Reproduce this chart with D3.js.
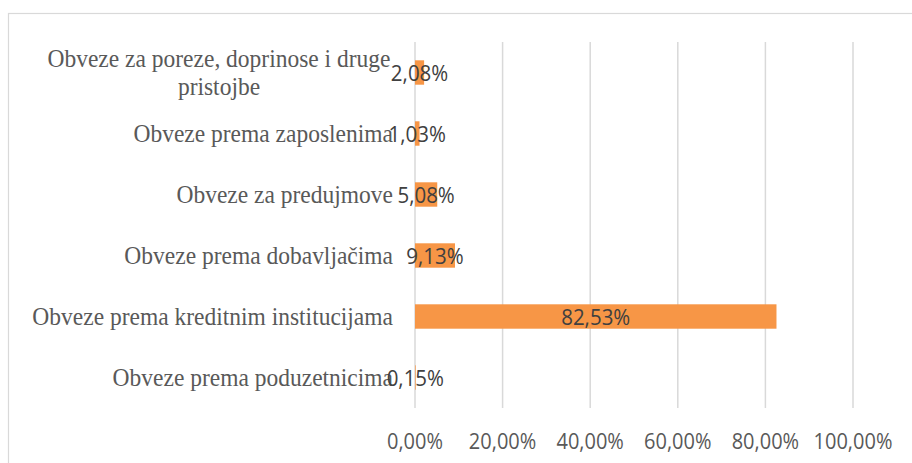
<!DOCTYPE html>
<html>
<head>
<meta charset="utf-8">
<script src="https://cdn.jsdelivr.net/npm/d3@7"></script>
<style>
  body { margin: 0; background: #fff; }
</style>
</head>
<body>
<div id="chart"></div>
<script>
const categories = [
	"Obveze za poreze, doprinose i druge pristojbe",
	"Obveze prema zaposlenima",
	"Obveze za predujmove",
	"Obveze prema dobavljačima",
	"Obveze prema kreditnim institucijama",
	"Obveze prema poduzetnicima",
];
const values = [2.08, 1.03, 5.08, 9.13, 82.53, 0.15];
const ticks = [0, 20, 40, 60, 80, 100];
// wrapped lines for long labels
const labelLines = [
	["Obveze za poreze, doprinose i druge", "pristojbe"],
	["Obveze prema zaposlenima"],
	["Obveze za predujmove"],
	["Obveze prema dobavljačima"],
	["Obveze prema kreditnim institucijama"],
	["Obveze prema poduzetnicima"],
];

const width = 912;
const height = 463;
const fmt = (v) => v.toFixed(2).replace(".", ",") + "%";
const sans = "'Open Sans', 'Noto Sans', sans-serif";
// the source picture's text is a bit taller than wide
const stretch = (cy) => `translate(0 ${cy}) scale(1 1.1) translate(0 ${-cy})`;

const svg = d3
	.select("#chart")
	.append("svg")
	.attr("width", width)
	.attr("height", height);

// chart border (runs off right and bottom)
svg
	.append("rect")
	.attr("x", 8.5)
	.attr("y", 13.5)
	.attr("width", 920)
	.attr("height", 480)
	.attr("fill", "#fff")
	.attr("stroke", "#d9d9d9")
	.attr("stroke-width", 1.2);

const x = d3.scaleLinear().domain([0, 100]).range([415, 853]);
const y = d3.scaleBand().domain(categories).range([42, 408]).paddingInner(0.6).paddingOuter(0.3);

// gridlines
svg
	.append("g")
	.selectAll("line")
	.data(ticks)
	.enter()
	.append("line")
	.attr("x1", (d) => x(d))
	.attr("x2", (d) => x(d))
	.attr("y1", 42)
	.attr("y2", 408)
	.attr("stroke", "#d9d9d9")
	.attr("stroke-width", 1.5);

// bars
svg
	.append("g")
	.selectAll("rect")
	.data(values)
	.enter()
	.append("rect")
	.attr("x", x(0))
	.attr("y", (d, i) => y(categories[i]))
	.attr("width", (d) => x(d) - x(0))
	.attr("height", y.bandwidth())
	.attr("fill", "#f79646");

// category labels
const labels = svg
	.append("g")
	.selectAll("text")
	.data(categories)
	.enter()
	.append("text")
	.attr("font-family", "'Liberation Serif', 'Times New Roman', serif")
	.attr("font-size", "23.5px")
	.attr("fill", "#595959");

labels.each(function (d, i) {
	const lines = labelLines[i];
	const cy = y(d) + y.bandwidth() / 2;
	const t = d3.select(this).attr("transform", stretch(cy));
	if (lines.length === 1) {
		t.attr("text-anchor", "end")
			.attr("x", 393)
			.attr("y", cy)
			.attr("dy", "0.32em")
			.text(lines[0]);
	} else {
		t.attr("text-anchor", "middle");
		lines.forEach((ln, k) => {
			t.append("tspan")
				.attr("x", 219)
				.attr("y", cy + (k - (lines.length - 1) / 2) * 25.5)
				.attr("dy", "0.32em")
				.text(ln);
		});
	}
});

// data labels centered on bars
svg
	.append("g")
	.selectAll("text")
	.data(values)
	.enter()
	.append("text")
	.attr("x", (d) => (x(0) + x(d)) / 2)
	.attr("y", (d, i) => y(categories[i]) + y.bandwidth() / 2)
	.attr("transform", (d, i) => stretch(y(categories[i]) + y.bandwidth() / 2))
	.attr("dy", "0.36em")
	.attr("text-anchor", "middle")
	.attr("font-family", sans)
	.attr("font-size", "20.5px")
	.attr("fill", "#404040")
	.text((d) => fmt(d));

// x axis tick labels
svg
	.append("g")
	.selectAll("text")
	.data(ticks)
	.enter()
	.append("text")
	.attr("x", (d) => x(d))
	.attr("y", 441)
	.attr("transform", stretch(441))
	.attr("dy", "0.36em")
	.attr("text-anchor", "middle")
	.attr("font-family", sans)
	.attr("font-size", "20px")
	.attr("fill", "#595959")
	.text((d) => fmt(d));
</script>
</body>
</html>
